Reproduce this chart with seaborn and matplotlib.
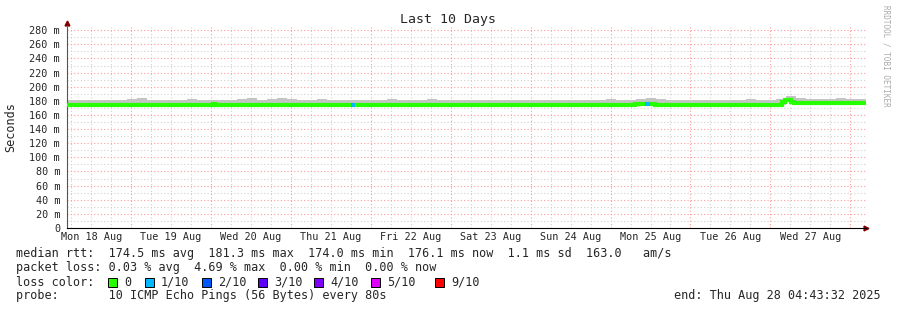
import numpy as np
import pandas as pd
import seaborn as sns
import matplotlib.pyplot as plt
from matplotlib.patches import Rectangle
from matplotlib.ticker import FuncFormatter, MultipleLocator

# time axis in days since Mon 18 Aug 00:00
start_day = (4 + 43 / 60 + 32 / 3600) / 24
end_day = start_day + 10
day_labels = ["Mon 18 Aug", "Tue 19 Aug", "Wed 20 Aug", "Thu 21 Aug", "Fri 22 Aug",
              "Sat 23 Aug", "Sun 24 Aug", "Mon 25 Aug", "Tue 26 Aug", "Wed 27 Aug"]

# median rtt (ms), step function: value holds from time until next breakpoint
median_t = [start_day, 2.03, 2.05, 3.76, 3.79, 7.30, 7.40, 7.50, 7.56, 9.15, 9.18,
            9.26, 9.30, 9.36, 9.42, end_day]
median_v = [174.5, 176.0, 174.5, 174.0, 174.5, 175.3, 175.8, 176.0, 174.5, 178.5, 181.0,
            178.5, 177.5, 177.0, 176.5, 176.5]

# smoke (max ping) per 3 hour bin
smoke_top = [180.5, 181.5, 180.5, 181.5, 180.5, 181.5, 182.5, 183.5, 181.5, 180.5,
             180.5, 181.5, 182.5, 180.5, 181.5, 181.5, 180.5, 182.5, 183.5, 181.5,
             182.5, 183.5, 182.5, 181.5, 181.5, 182.5, 181.5, 180.5, 181.5, 181.5,
             180.5, 181.5, 182.5, 181.5, 180.5, 181.5, 182.5, 181.5, 181.5, 180.5,
             181.5, 180.5, 181.5, 180.5, 181.5, 181.5, 180.5, 181.5, 181.5, 181.5,
             180.5, 181.5, 181.5, 180.5, 182.5, 181.5, 180.5, 182.5, 183.5, 182.5,
             181.5, 181.5, 180.5, 181.5, 181.5, 181.5, 180.5, 181.5, 182.5, 181.5,
             180.5, 183.0, 186.5, 184.0, 182.0, 183.0, 182.0, 183.5, 182.0, 183.0]

# single probes with packet loss
loss_t = [3.775, 7.46]
loss_v = [174.3, 175.8]
loss_cls = ["1/10", "1/10"]

loss_names = ["0", "1/10", "2/10", "3/10", "4/10", "5/10", "9/10"]
loss_colors = ["#26ff00", "#00b8ff", "#0059ff", "#5e00ff", "#7e00ff", "#dd00ff", "#ff0000"]

stats_lines = [
    "median rtt:  174.5 ms avg  181.3 ms max  174.0 ms min  176.1 ms now  1.1 ms sd  163.0   am/s",
    "packet loss: 0.03 % avg  4.69 % max  0.00 % min  0.00 % now",
]

sns.set_theme(style="white")
plt.rcParams["font.family"] = ["DejaVu Sans Mono"]

fig = plt.figure(figsize=(8.97, 3.10), dpi=100)
ax = fig.add_axes([67 / 897, 82 / 310, 799 / 897, 201 / 310])

median_df = pd.DataFrame({"t": median_t, "v": median_v})
bin_edges = start_day + np.arange(len(smoke_top) + 1) * 0.125
bin_low = np.array(median_v)[np.searchsorted(median_t, bin_edges[:-1], side="right") - 1]
ax.fill_between(bin_edges, list(bin_low) + [bin_low[-1]], smoke_top + [smoke_top[-1]],
                step="post", color="#c4c4c4", lw=0, zorder=2)

sns.lineplot(data=median_df, x="t", y="v", ax=ax, color="#26ff00", lw=3,
             drawstyle="steps-post", zorder=3, sort=False, estimator=None,
             solid_capstyle="butt", solid_joinstyle="miter")
loss_df = pd.DataFrame({"t": loss_t, "v": loss_v, "c": loss_cls})
sns.scatterplot(data=loss_df, x="t", y="v", hue="c", palette={"1/10": "#00b8ff"},
                marker="s", s=10, lw=0, ax=ax, zorder=4, legend=False)

ax.set_xlim(start_day, end_day)
ax.set_ylim(0, 284.5)
ax.set_xlabel("")
ax.set_ylabel("Seconds", fontsize=8.5)
ax.yaxis.set_label_coords(-0.062, 0.5)

ax.set_xticks(np.arange(1, 11))
ax.set_xticklabels([])
ax.set_xticks(np.arange(0.5, 10), minor=True)
ax.set_xticklabels(day_labels, minor=True, fontsize=7.3)
ax.yaxis.set_major_locator(MultipleLocator(20))
ax.yaxis.set_major_formatter(FuncFormatter(lambda v, p: "0" if v == 0 else f"{int(v)} m"))
ax.tick_params(axis="y", labelsize=7.3, length=2, color="#cc6666", pad=3)
ax.tick_params(axis="x", which="both", length=0, pad=3)

# grid: minor grey every 6 h / 10 ms, major red every day / 20 ms
for d in np.arange(0, 10.5, 0.25):
    if d > start_day and abs(d - round(d)) > 1e-6:
        ax.axvline(d, color="#d0d0d0", lw=0.8, ls=(0, (1, 2)), zorder=1)
for d in range(1, 11):
    ax.axvline(d, color="#ff9a9a", lw=0.8, ls=(0, (1, 2)), zorder=1)
for v in range(10, 285, 20):
    ax.axhline(v, color="#d0d0d0", lw=0.8, ls=(0, (1, 2)), zorder=1)
for v in range(20, 285, 20):
    ax.axhline(v, color="#ff9a9a", lw=0.8, ls=(0, (1, 2)), zorder=1)

for s in ["top", "right"]:
    ax.spines[s].set_visible(False)
ax.spines["left"].set_color("#555555")
ax.spines["left"].set_linewidth(0.8)
ax.spines["bottom"].set_color("#000000")
ax.spines["bottom"].set_linewidth(0.8)
ax.plot(1, 0, ">", transform=ax.transAxes, color="#800000", ms=3.5, clip_on=False)
ax.plot(0, 1.02, "^", transform=ax.transAxes, color="#800000", ms=3.5, clip_on=False)

fig.text(448 / 897, 1 - 19 / 310, "Last 10 Days", ha="center", va="center", fontsize=9.5)
fig.text(886 / 897, 1 - 5 / 310, "RRDTOOL / TOBI OETIKER", rotation=270, ha="center",
         va="top", fontsize=5.5, color="#aaaaaa")

line_y = [254, 268, 282, 296]
for i, line in enumerate(stats_lines):
    fig.text(16 / 897, 1 - line_y[i] / 310, line, ha="left", va="center", fontsize=8.5)
fig.text(16 / 897, 1 - line_y[2] / 310, "loss color:", ha="left", va="center", fontsize=8.5)
box_x = [108, 145, 202, 258, 314, 371, 435]
for bx, name, col in zip(box_x, loss_names, loss_colors):
    fig.patches.append(Rectangle((bx / 897, 1 - (line_y[2] + 4.5) / 310), 9 / 897, 9 / 310,
                                 transform=fig.transFigure, facecolor=col,
                                 edgecolor="black", lw=0.7))
    fig.text((bx + 16) / 897, 1 - line_y[2] / 310, name, ha="left", va="center", fontsize=8.5)
fig.text(16 / 897, 1 - line_y[3] / 310, "probe:       10 ICMP Echo Pings (56 Bytes) every 80s",
         ha="left", va="center", fontsize=8.5)
fig.text(881 / 897, 1 - line_y[3] / 310, "end: Thu Aug 28 04:43:32 2025",
         ha="right", va="center", fontsize=8.5)

fig.savefig("out.png", dpi=100, facecolor="white")
